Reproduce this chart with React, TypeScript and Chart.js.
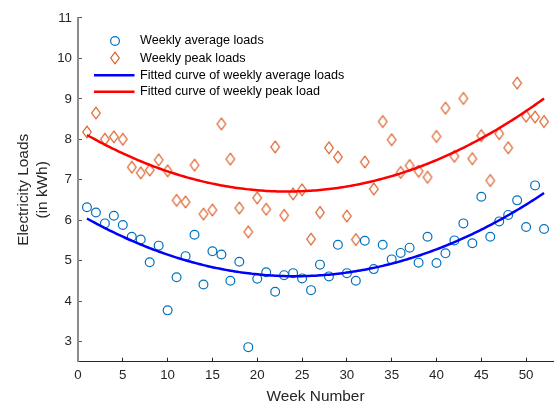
import React, { useEffect, useRef } from 'react';
import { Chart, registerables } from 'chart.js';

Chart.register(...registerables);

// Week index and measured loads (kWh)
const weeks = [
  1, 2, 3, 4, 5, 6, 7, 8, 9, 10, 11, 12, 13, 14, 15, 16, 17, 18, 19, 20, 21, 22, 23, 24, 25, 26,
  27, 28, 29, 30, 31, 32, 33, 34, 35, 36, 37, 38, 39, 40, 41, 42, 43, 44, 45, 46, 47, 48, 49, 50, 51, 52,
];

const avgLoads = [
  6.32, 6.19, 5.92, 6.11, 5.88, 5.59, 5.52, 4.96, 5.37, 3.77,
  4.59, 5.11, 5.64, 4.41, 5.23, 5.15, 4.5, 4.97, 2.86, 4.55,
  4.71, 4.23, 4.64, 4.69, 4.56, 4.27, 4.9, 4.61, 5.39, 4.69,
  4.5, 5.49, 4.79, 5.39, 5.03, 5.19, 5.32, 4.95, 5.59, 4.94,
  5.18, 5.5, 5.92, 5.43, 6.58, 5.59, 5.97, 6.13, 6.49, 5.83,
  6.86, 5.78,
];

const peakLoads = [
  8.18, 8.65, 8.0, 8.06, 8.0, 7.31, 7.17, 7.24, 7.49, 7.22,
  6.49, 6.45, 7.36, 6.15, 6.25, 8.38, 7.51, 6.3, 5.71, 6.55,
  6.27, 7.81, 6.12, 6.65, 6.75, 5.53, 6.19, 7.79, 7.56, 6.1,
  5.52, 7.44, 6.77, 8.44, 7.99, 7.18, 7.35, 7.21, 7.06, 8.07,
  8.77, 7.58, 9.01, 7.52, 8.09, 6.98, 8.14, 7.79, 9.39, 8.57,
  8.55, 8.44,
];

const xTicks = [0, 5, 10, 15, 20, 25, 30, 35, 40, 45, 50];
const yTicks = [3, 4, 5, 6, 7, 8, 9, 10, 11];

const AXIS_COLOR = '#262626';
const FONT = '"Liberation Sans", Arial, Helvetica, sans-serif';
const AVG_COLOR = '#0072BD';
const PEAK_COLOR = '#D95319';

// Least-squares quadratic y = a + b x + c x^2
function quadFit(xs: number[], ys: number[]): [number, number, number] {
  let s0 = 0, s1 = 0, s2 = 0, s3 = 0, s4 = 0, t0 = 0, t1 = 0, t2 = 0;
  for (let i = 0; i < xs.length; i++) {
    const x = xs[i], y = ys[i];
    s0 += 1; s1 += x; s2 += x * x; s3 += x * x * x; s4 += x * x * x * x;
    t0 += y; t1 += x * y; t2 += x * x * y;
  }
  const m = [
    [s0, s1, s2, t0],
    [s1, s2, s3, t1],
    [s2, s3, s4, t2],
  ];
  for (let c = 0; c < 3; c++) {
    for (let r = c + 1; r < 3; r++) {
      const f = m[r][c] / m[c][c];
      for (let k = c; k < 4; k++) m[r][k] -= f * m[c][k];
    }
  }
  const sol = [0, 0, 0];
  for (let r = 2; r >= 0; r--) {
    let v = m[r][3];
    for (let k = r + 1; k < 3; k++) v -= m[r][k] * sol[k];
    sol[r] = v / m[r][r];
  }
  return [sol[0], sol[1], sol[2]];
}

function fittedCurve(xs: number[], ys: number[]) {
  const [a, b, c] = quadFit(xs, ys);
  const pts: { x: number; y: number }[] = [];
  const x0 = xs[0];
  const x1 = xs[xs.length - 1];
  for (let x = x0; x <= x1 + 1e-9; x += 0.25) pts.push({ x, y: a + b * x + c * x * x });
  return pts;
}

function makeDiamond(): HTMLCanvasElement {
  const c = document.createElement('canvas');
  c.width = 12;
  c.height = 16;
  const g = c.getContext('2d')!;
  g.strokeStyle = PEAK_COLOR;
  g.lineWidth = 1.1;
  g.beginPath();
  g.moveTo(6, 2.2);
  g.lineTo(10.3, 8);
  g.lineTo(6, 13.8);
  g.lineTo(1.7, 8);
  g.closePath();
  g.stroke();
  return c;
}

const insideLegend = {
  id: 'insideLegend',
  afterDraw(chart: any) {
    const ctx = chart.ctx as CanvasRenderingContext2D;
    const { left, top } = chart.chartArea;
    const markerX = left + 37;
    const lineX0 = left + 16;
    const lineX1 = left + 56.5;
    const textX = left + 62;
    const rows = [top + 23, top + 40.5, top + 57.2, top + 73.8];
    const ds = chart.data.datasets;
    ctx.save();
    ctx.font = `12.6px ${FONT}`;
    ctx.textBaseline = 'middle';
    ctx.textAlign = 'left';
    ds.forEach((d: any, i: number) => {
      const y = rows[i];
      if (d.showLine) {
        ctx.strokeStyle = d.borderColor;
        ctx.lineWidth = d.borderWidth;
        ctx.beginPath();
        ctx.moveTo(lineX0, y);
        ctx.lineTo(lineX1, y);
        ctx.stroke();
      } else if (typeof d.pointStyle === 'object') {
        const img = d.pointStyle as HTMLCanvasElement;
        ctx.drawImage(img, Math.round(markerX - img.width / 2), Math.round(y - img.height / 2));
      } else {
        ctx.strokeStyle = d.pointBorderColor;
        ctx.lineWidth = d.pointBorderWidth;
        ctx.beginPath();
        ctx.arc(markerX, y, d.pointRadius, 0, Math.PI * 2);
        ctx.stroke();
      }
      ctx.fillStyle = '#000';
      ctx.fillText(d.label, textX, y);
    });
    ctx.restore();
  },
};

export default function App() {
  const canvasRef = useRef<HTMLCanvasElement | null>(null);

  useEffect(() => {
    const canvas = canvasRef.current;
    if (!canvas) return;
    const diamond = makeDiamond();

    const chart = new Chart(canvas, {
      type: 'scatter',
      data: {
        datasets: [
          {
            label: 'Weekly average loads',
            data: weeks.map((w, i) => ({ x: w, y: avgLoads[i] })),
            showLine: false,
            pointStyle: 'circle',
            pointRadius: 4.4,
            pointBorderWidth: 1.2,
            pointBorderColor: AVG_COLOR,
            pointBackgroundColor: 'rgba(0,0,0,0)',
            order: 2,
          },
          {
            label: 'Weekly peak loads',
            data: weeks.map((w, i) => ({ x: w, y: peakLoads[i] })),
            showLine: false,
            pointStyle: diamond,
            pointRadius: 6,
            order: 2,
          },
          {
            label: 'Fitted curve of weekly average loads',
            data: fittedCurve(weeks, avgLoads),
            showLine: true,
            borderColor: '#0000FF',
            borderWidth: 2.5,
            pointRadius: 0,
            tension: 0,
            order: 1,
          },
          {
            label: 'Fitted curve of weekly peak load',
            data: fittedCurve(weeks, peakLoads),
            showLine: true,
            borderColor: '#FF0000',
            borderWidth: 2.5,
            pointRadius: 0,
            tension: 0,
            order: 1,
          },
        ] as any,
      },
      options: {
        responsive: false,
        animation: false,
        events: [],
        layout: { padding: { top: 15, right: 3, left: 0, bottom: 0 } },
        plugins: {
          legend: { display: false },
          tooltip: { enabled: false },
        },
        scales: {
          x: {
            type: 'linear',
            min: 0,
            max: 53,
            afterBuildTicks: (s: any) => {
              s.ticks = xTicks.map((v) => ({ value: v }));
            },
            afterFit: (s: any) => {
              s.height = 42.3;
            },
            ticks: {
              autoSkip: false,
              maxRotation: 0,
              padding: 10,
              color: AXIS_COLOR,
              font: { family: FONT, size: 13.3 },
            },
            grid: {
              drawOnChartArea: false,
              drawTicks: true,
              tickLength: -4,
              tickColor: AXIS_COLOR,
              tickWidth: 1,
            },
            border: { color: AXIS_COLOR, width: 1 },
            title: {
              display: true,
              text: 'Week Number',
              color: AXIS_COLOR,
              font: { family: FONT, size: 15.4, lineHeight: 1 },
              padding: { top: 0, bottom: 0 },
            },
          },
          y: {
            type: 'linear',
            min: 2.5,
            max: 11,
            afterBuildTicks: (s: any) => {
              s.ticks = yTicks.map((v) => ({ value: v }));
            },
            afterFit: (s: any) => {
              s.width = 78;
            },
            ticks: {
              padding: 10,
              color: AXIS_COLOR,
              font: { family: FONT, size: 13.3 },
            },
            grid: {
              drawOnChartArea: false,
              drawTicks: true,
              tickLength: -4,
              tickColor: '#555555',
              tickWidth: 1,
            },
            border: { color: '#8c8c8c', width: 2 },
            title: {
              display: true,
              text: ['Electricity Loads', '(in kWh)'],
              color: AXIS_COLOR,
              font: { family: FONT, size: 15.4, lineHeight: 1.23 },
              padding: { top: 14.5, bottom: 0 },
            },
          },
        },
      } as any,
      plugins: [insideLegend],
    });

    return () => chart.destroy();
  }, []);

  return (
    <div
      style={{
        position: 'fixed',
        left: 0,
        top: 0,
        width: 556,
        height: 404,
        overflow: 'hidden',
        background: '#ffffff',
      }}
    >
      <canvas ref={canvasRef} width={560} height={404} style={{ width: 560, height: 404, display: 'block' }} />
    </div>
  );
}
